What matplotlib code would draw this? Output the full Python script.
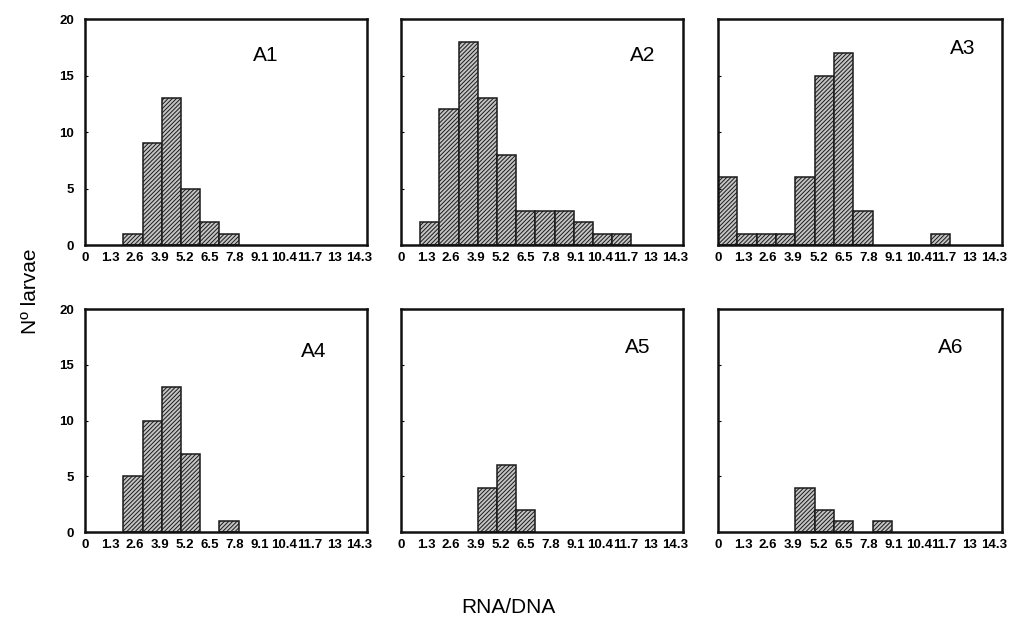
import numpy as np
import matplotlib.pyplot as plt

plt.rcParams['font.family'] = ['Liberation Sans', 'DejaVu Sans']
plt.rcParams['hatch.linewidth'] = 0.7

# bin index (left edge of each bar, bars are one unit wide)
bins = np.arange(14)
tick_labels = ['0', '1.3', '2.6', '3.9', '5.2', '6.5', '7.8', '9.1',
               '10.4', '11.7', '13', '14.3']
tick_pos = [0, 1.3, 2.6, 3.9, 5.2, 6.5, 7.8, 9.1, 10.4, 11.7, 13, 14.3]

a1 = [0, 0, 1, 9, 13, 5, 2, 1, 0, 0, 0, 0, 0, 0]
a2 = [0, 2, 12, 18, 13, 8, 3, 3, 3, 2, 1, 1, 0, 0]
a3 = [6, 1, 1, 1, 6, 15, 17, 3, 0, 0, 0, 1, 0, 0]
a4 = [0, 0, 5, 10, 13, 7, 0, 1, 0, 0, 0, 0, 0, 0]
a5 = [0, 0, 0, 0, 4, 6, 2, 0, 0, 0, 0, 0, 0, 0]
a6 = [0, 0, 0, 0, 4, 2, 1, 0, 1, 0, 0, 0, 0, 0]

panels = [('A1', a1), ('A2', a2), ('A3', a3),
          ('A4', a4), ('A5', a5), ('A6', a6)]

# axes rectangles [left, bottom, width, height]
rects = [[0.0837, 0.6086, 0.2776, 0.361], [0.3947, 0.6086, 0.2776, 0.361],
         [0.7067, 0.6086, 0.2795, 0.361], [0.0837, 0.150, 0.2776, 0.356],
         [0.3947, 0.150, 0.2776, 0.356], [0.7067, 0.150, 0.2795, 0.356]]
label_xy = [(0.64, 0.84), (0.855, 0.84), (0.86, 0.87),
            (0.81, 0.81), (0.84, 0.83), (0.82, 0.83)]

fig = plt.figure(figsize=(10.16, 6.26), dpi=100)

for i, (name, counts) in enumerate(panels):
    ax = fig.add_axes(rects[i])
    counts = np.array(counts)
    keep = counts > 0
    ax.bar(bins[keep], counts[keep], width=1, align='edge',
           facecolor='#c4c4c4', edgecolor='#1a1a1a', linewidth=1.1,
           hatch='////////')
    ax.set_xlim(0, 14.7)
    ax.set_ylim(0, 20)
    ax.set_xticks(tick_pos)
    ax.set_xticklabels(tick_labels, fontsize=9.5, fontweight='bold')
    ax.set_yticks([0, 5, 10, 15, 20])
    if i % 3 == 0:
        ax.set_yticklabels(['0', '5', '10', '15', '20'], fontsize=9.5,
                           fontweight='bold')
    else:
        ax.set_yticklabels([])
    ax.tick_params(axis='x', length=0, pad=5)
    ax.tick_params(axis='y', length=2, direction='in', pad=8)
    for sp in ax.spines.values():
        sp.set_linewidth(1.8)
        sp.set_color('#111111')
    ax.text(label_xy[i][0], label_xy[i][1], name, transform=ax.transAxes,
            ha='center', va='center', fontsize=15)

fig.text(0.030, 0.535, 'Nº larvae', rotation=90, ha='center', va='center',
         fontsize=15)
fig.text(0.50, 0.03, 'RNA/DNA', ha='center', va='center', fontsize=15)

fig.savefig('out.png', dpi=100)
